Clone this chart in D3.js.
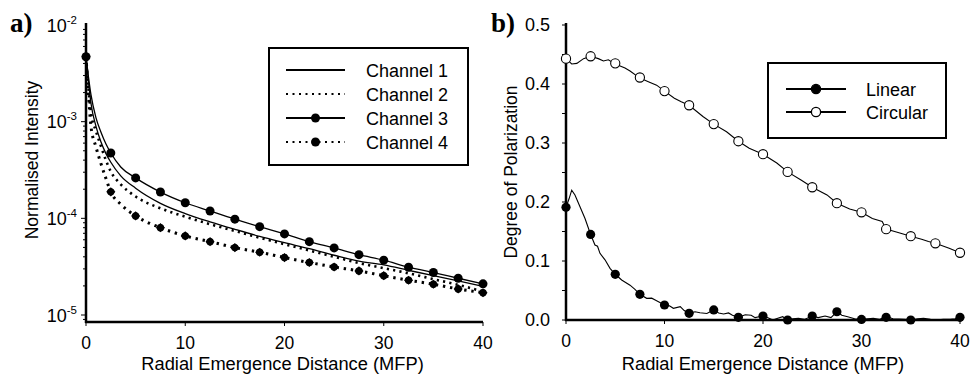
<!DOCTYPE html>
<html><head><meta charset="utf-8">
<script src="https://cdn.jsdelivr.net/npm/d3@7"></script>
<style>
body{margin:0;background:#fff;}
svg{display:block;font-family:"Liberation Sans",Arial,sans-serif;}
</style></head>
<body><svg id="c" width="971" height="377"></svg>
<script>
// ---------- Panel a data ----------
const xLine = [0,0.25,0.5,1,1.5,2,2.5,3.5,5,7.5,10,12.5,15,17.5,20,22.5,25,27.5,30,32.5,35,37.5,40];
const ch1 = [4.7e-3,2.6e-3,1.55e-3,9.0e-4,6.2e-4,4.7e-4,3.8e-4,2.75e-4,2.05e-4,1.43e-4,1.12e-4,9.2e-5,7.7e-5,6.5e-5,5.6e-5,4.85e-5,4.15e-5,3.6e-5,3.3e-5,2.9e-5,2.55e-5,2.25e-5,1.98e-5];
const ch2 = [4.7e-3,2.2e-3,1.25e-3,8.0e-4,5.6e-4,4.0e-4,3.05e-4,2.25e-4,1.68e-4,1.27e-4,1.04e-4,8.7e-5,7.4e-5,6.3e-5,5.4e-5,4.65e-5,4.0e-5,3.45e-5,3.05e-5,2.7e-5,2.35e-5,2.05e-5,1.75e-5];
const ch3 = [4.7e-3,2.9e-3,1.9e-3,1.1e-3,7.8e-4,5.9e-4,4.74e-4,3.4e-4,2.62e-4,1.87e-4,1.45e-4,1.19e-4,9.8e-5,8.2e-5,6.9e-5,5.74e-5,4.94e-5,4.21e-5,3.69e-5,3.12e-5,2.75e-5,2.4e-5,2.1e-5];
const ch4 = [4.7e-3,1.9e-3,9.0e-4,5.5e-4,3.7e-4,2.6e-4,1.88e-4,1.4e-4,1.06e-4,8.0e-5,6.58e-5,5.74e-5,4.98e-5,4.46e-5,3.93e-5,3.49e-5,3.14e-5,2.86e-5,2.55e-5,2.29e-5,2.08e-5,1.86e-5,1.7e-5];
const channelNames = ["Channel 1","Channel 2","Channel 3","Channel 4"];
const aXTicks = [0,10,20,30,40];
const aYTicks = [1e-5,1e-4,1e-3,1e-2];
const aYLabelExp = ["-5","-4","-3","-2"];

// ---------- Panel b data ----------
const linearLine = [[0,0.191],[0.3,0.205],[0.58,0.22],[0.91,0.212],[1.42,0.192],[1.93,0.172],[2.5,0.145],[2.94,0.127],[3.2,0.125],[3.45,0.113],[3.96,0.102],[4.47,0.0876],[5,0.0775],[5.65,0.0678],[6.5,0.059],[7,0.052],[7.5,0.0435],[8.19,0.0367],[8.7,0.037],[9.2,0.0328],[10,0.0254],[10.5,0.024],[10.9,0.0198],[11.6,0.0226],[12,0.016],[12.5,0.0113],[13.1,0.014],[13.6,0.0124],[14.3,0.011],[15,0.017],[15.5,0.012],[16,0.0102],[16.5,0.012],[16.9,0.008],[17.5,0.0045],[18.2,0.009],[18.8,0.008],[19.2,0.004],[19.7,0.006],[20,0.0068],[20.5,0.004],[21,0],[21.5,0.003],[22,0.0056],[22.5,0],[23,0.002],[23.6,0.003],[24.2,0.001],[25,0.0068],[25.6,0.004],[26.3,0.0068],[26.9,0.004],[27.5,0.014],[28,0.008],[28.6,0.0056],[29.3,0.002],[30,0.001],[30.6,0.002],[31.2,0.003],[31.8,0.001],[32.5,0.0056],[33.2,0.002],[33.8,0.0017],[34.4,0.001],[35,0],[35.7,0.002],[36.3,0.003],[37,0.001],[37.6,0],[38.3,0.001],[39,0.001],[39.5,0.002],[40,0.0045]];
const circularLine = [[0,0.443],[0.58,0.434],[1.1,0.435],[1.78,0.443],[2.5,0.447],[3.28,0.443],[3.8,0.439],[4.3,0.441],[5,0.434],[5.99,0.427],[6.5,0.422],[7.5,0.41],[8.36,0.404],[9.2,0.398],[10,0.388],[11,0.376],[11.7,0.37],[12.5,0.364],[13.9,0.345],[15,0.332],[16.3,0.319],[17.5,0.303],[18.6,0.291],[20,0.281],[21.4,0.266],[22.5,0.251],[23.9,0.237],[25,0.225],[26.5,0.212],[27.5,0.198],[28.8,0.188],[30,0.1825],[31.1,0.172],[32.1,0.167],[32.5,0.154],[33.8,0.148],[35,0.142],[36.1,0.137],[36.8,0.133],[37.5,0.13],[38.9,0.1215],[40,0.114]];
const markerX = [0,2.5,5,7.5,10,12.5,15,17.5,20,22.5,25,27.5,30,32.5,35,37.5,40];
const linearMarkers = [0.191,0.145,0.0775,0.0435,0.0254,0.0113,0.017,0.0045,0.0068,0,0.0068,0.014,0.001,0.0045,0,null,0.0045];
const circularMarkers = [0.443,0.447,0.435,0.411,0.388,0.364,0.332,0.303,0.281,0.251,0.225,0.198,0.1825,0.154,0.142,0.13,0.114];
const polNames = ["Linear","Circular"];
const bXTicks = [0,10,20,30,40];
const bYTicks = [0,0.1,0.2,0.3,0.4,0.5];

const svg = d3.select("#c");
const AX = 2.5; // axis stroke width

// ================= Panel a =================
const ax = d3.scaleLinear().domain([0,40]).range([86,483]);
const ay = d3.scaleLog().domain([1e-5,1e-2]).range([315,25]);
const aBottom = 322, aTop = 23;

const ga = svg.append("g");
const minors = [];
for (let e=-6;e<=-3;e++) for (let m=1;m<=9;m++){ const v=m*Math.pow(10,e); const yy=ay(v); if (yy<=aBottom && yy>=aTop) minors.push(v);}
ga.selectAll("line.mt").data(minors).join("line")
  .attr("x1",86).attr("x2",d=>Math.abs(Math.log10(d)-Math.round(Math.log10(d)))<1e-6?81:83)
  .attr("y1",d=>ay(d)).attr("y2",d=>ay(d)).attr("stroke","#000").attr("stroke-width",1);
ga.append("line").attr("x1",86).attr("x2",86).attr("y1",aTop).attr("y2",aBottom+1).attr("stroke","#000").attr("stroke-width",AX);
ga.append("line").attr("x1",85).attr("x2",ax(40)).attr("y1",aBottom).attr("y2",aBottom).attr("stroke","#000").attr("stroke-width",AX);
ga.selectAll("line.xt").data(aXTicks).join("line")
  .attr("x1",d=>ax(d)).attr("x2",d=>ax(d)).attr("y1",aBottom).attr("y2",aBottom+4).attr("stroke","#000").attr("stroke-width",1);
ga.selectAll("text.xl").data(aXTicks).join("text")
  .attr("x",d=>ax(d)).attr("y",349).attr("text-anchor","middle").attr("font-size",17.5).text(d=>d);
const yl = ga.selectAll("text.yl").data(aYTicks).join("text")
  .attr("x",77).attr("y",d=>ay(d)+6.5).attr("text-anchor","end").attr("font-size",18);
yl.append("tspan").text("10");
yl.append("tspan").attr("dy",-8).attr("font-size",11.5).text((d,i)=>aYLabelExp[i]);
ga.append("text").attr("transform","translate(38,160) rotate(-90)").attr("text-anchor","middle").attr("font-size",17.5).text("Normalised Intensity");
ga.append("text").attr("x",ax(19.8)).attr("y",370).attr("text-anchor","middle").attr("font-size",18.3).text("Radial Emergence Distance (MFP)");
ga.append("text").attr("x",10).attr("y",32).attr("font-family","'Liberation Serif','Times New Roman',serif").attr("font-weight","bold").attr("font-size",27).text("a)");

const lineA = d3.line().x(d=>ax(d[0])).y(d=>ay(d[1])).curve(d3.curveMonotoneX);
const series = [ch1,ch2,ch3,ch4].map(arr=>xLine.map((x,i)=>[x,arr[i]]));
const styles = [
  {w:1.3,dash:null},
  {w:2.6,dash:"2.2,4.2"},
  {w:1.3,dash:null},
  {w:3,dash:"2.4,4.8"}
];
series.forEach((s,i)=>{
  ga.append("path").attr("d",lineA(s)).attr("fill","none").attr("stroke","#000")
    .attr("stroke-width",styles[i].w).attr("stroke-dasharray",styles[i].dash);
});
const isMk = d=>Math.abs(d[0]/2.5-Math.round(d[0]/2.5))<1e-9;
const mk3 = series[2].filter(isMk);
const mk4 = series[3].filter(isMk);
ga.selectAll("circle.m3").data(mk3).join("circle").attr("cx",d=>ax(d[0])).attr("cy",d=>ay(d[1])).attr("r",4.5).attr("fill","#000");
ga.selectAll("path.m4").data(mk4).join("path")
  .attr("transform",d=>`translate(${ax(d[0])},${ay(d[1])}) rotate(45)`)
  .attr("d",d3.symbol(d3.symbolSquare,42)()).attr("fill","#000");
ga.selectAll("circle.m4").data(mk4).join("circle").attr("cx",d=>ax(d[0])).attr("cy",d=>ay(d[1])).attr("r",3.7).attr("fill","#000");

// legend a
const lga = ga.append("g");
lga.append("rect").attr("x",269).attr("y",48).attr("width",199).attr("height",117).attr("fill","#fff").attr("stroke","#000").attr("stroke-width",2);
const legRows = [70,94,118,142];
channelNames.forEach((n,i)=>{
  const yy = legRows[i];
  lga.append("line").attr("x1",286).attr("x2",345).attr("y1",yy).attr("y2",yy).attr("stroke","#000")
    .attr("stroke-width",i===1||i===3?2.2:2).attr("stroke-dasharray",i===1||i===3?"2,4.5":null);
  if(i>=2) lga.append("circle").attr("cx",315.5).attr("cy",yy).attr("r",4.5).attr("fill","#000");
  lga.append("text").attr("x",366).attr("y",yy+6.5).attr("font-size",18).text(n);
});

// ================= Panel b =================
const bx = d3.scaleLinear().domain([0,40]).range([566,960]);
const by = d3.scaleLinear().domain([0,0.5]).range([320,25]);
const gb = svg.append("g");
const bMinor = d3.range(0,0.5001,0.05);
gb.selectAll("line.mt").data(bMinor).join("line")
  .attr("x1",566).attr("x2",562).attr("y1",d=>by(d)).attr("y2",d=>by(d)).attr("stroke","#000").attr("stroke-width",1);
gb.append("line").attr("x1",566).attr("x2",566).attr("y1",23).attr("y2",321).attr("stroke","#000").attr("stroke-width",AX);
gb.append("line").attr("x1",565).attr("x2",bx(40)+2).attr("y1",320).attr("y2",320).attr("stroke","#000").attr("stroke-width",AX);
gb.selectAll("line.xt").data(bXTicks).join("line")
  .attr("x1",d=>bx(d)).attr("x2",d=>bx(d)).attr("y1",320).attr("y2",324).attr("stroke","#000").attr("stroke-width",1);
gb.selectAll("text.xl").data(bXTicks).join("text")
  .attr("x",d=>bx(d)).attr("y",347).attr("text-anchor","middle").attr("font-size",17.5).text(d=>d);
gb.selectAll("text.yl").data(bYTicks).join("text")
  .attr("x",550).attr("y",d=>by(d)+6).attr("text-anchor","end").attr("font-size",18).text(d=>d3.format(".1f")(d));
gb.append("text").attr("transform","translate(517,172) rotate(-90)").attr("text-anchor","middle").attr("font-size",17.5).text("Degree of Polarization");
gb.append("text").attr("x",bx(20)).attr("y",370).attr("text-anchor","middle").attr("font-size",18.3).text("Radial Emergence Distance (MFP)");
gb.append("text").attr("x",491).attr("y",32).attr("font-family","'Liberation Serif','Times New Roman',serif").attr("font-weight","bold").attr("font-size",27).text("b)");

const lineB = d3.line().x(d=>bx(d[0])).y(d=>by(d[1]));
gb.append("path").attr("d",lineB(circularLine)).attr("fill","none").attr("stroke","#000").attr("stroke-width",1.1);
gb.append("path").attr("d",lineB(linearLine)).attr("fill","none").attr("stroke","#000").attr("stroke-width",1.1);
const cm = markerX.map((x,i)=>[x,circularMarkers[i]]);
const lm = markerX.map((x,i)=>[x,linearMarkers[i]]).filter(d=>d[1]!==null);
gb.selectAll("circle.cm").data(cm).join("circle").attr("cx",d=>bx(d[0])).attr("cy",d=>by(d[1])).attr("r",4.6).attr("fill","#fff").attr("stroke","#000").attr("stroke-width",1.1);
gb.selectAll("circle.lm").data(lm).join("circle").attr("cx",d=>bx(d[0])).attr("cy",d=>by(d[1])).attr("r",4.6).attr("fill","#000");

const lgb = gb.append("g");
lgb.append("rect").attr("x",768).attr("y",63).attr("width",178).attr("height",75).attr("fill","#fff").attr("stroke","#000").attr("stroke-width",2);
[89,112].forEach((yy,i)=>{
  lgb.append("line").attr("x1",786).attr("x2",846).attr("y1",yy).attr("y2",yy).attr("stroke","#000").attr("stroke-width",2);
  lgb.append("circle").attr("cx",816).attr("cy",yy).attr("r",4.6).attr("fill",i===0?"#000":"#fff").attr("stroke","#000").attr("stroke-width",1.3);
  lgb.append("text").attr("x",866).attr("y",yy+6.5).attr("font-size",18).text(polNames[i]);
});
</script></body></html>
